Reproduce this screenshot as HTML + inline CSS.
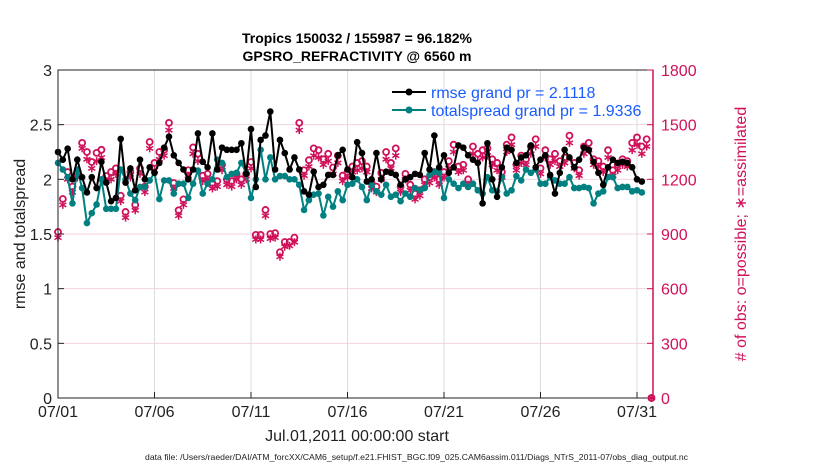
<!DOCTYPE html>
<html><head><meta charset="utf-8"><style>
body{margin:0;background:#fff;}
svg text{font-family:"Liberation Sans",sans-serif;}
</style></head><body>
<svg id="c" width="830" height="470" xmlns="http://www.w3.org/2000/svg"></svg>
<script>
const rmse=[2.25,2.18,2.28,2.0,2.18,2.02,1.88,2.02,1.92,2.16,1.97,1.8,1.83,2.37,1.97,2.1,1.9,2.18,2.0,2.11,2.06,2.15,2.29,2.39,2.22,2.15,2.09,2.0,2.09,2.42,2.16,2.11,2.42,2.09,2.29,2.27,2.27,2.27,2.33,2.05,
2.46,1.93,2.36,2.4,2.62,2.09,2.36,2.24,2.09,2.2,2.09,1.89,1.86,2.07,1.93,1.95,2.04,2.04,2.22,2.27,2.09,2.02,2.34,2.24,1.98,2.0,2.24,2.0,2.07,2.06,2.04,1.95,2.0,2.02,2.05,2.04,2.24,2.09,2.4,2.11,
2.22,2.06,2.11,2.31,2.29,2.22,2.18,2.15,1.78,2.33,2.0,1.84,2.11,2.29,2.27,2.15,2.2,2.22,2.31,2.11,2.18,2.22,2.04,1.87,2.06,2.27,2.2,2.11,2.18,2.29,2.27,2.16,2.06,1.95,2.11,2.18,2.15,2.16,2.15,2.11,2.0,1.98];
const spread=[2.15,2.09,2.02,1.78,2.09,1.92,1.6,1.69,1.77,2.0,1.73,1.73,1.73,2.09,2.0,1.87,1.81,1.93,1.93,1.99,2.06,1.82,1.99,1.99,1.87,1.96,1.96,1.83,1.96,2.08,1.87,1.96,2.0,2.18,2.15,2.02,2.05,2.06,2.15,2.06,
1.83,2.0,2.27,2.0,2.2,2.0,2.03,2.03,2.0,2.0,1.95,1.72,1.81,1.86,1.87,1.67,1.84,1.75,1.89,1.81,1.95,1.96,2.0,1.93,1.81,1.95,1.89,1.86,1.95,1.84,1.86,1.8,1.87,1.84,1.92,1.9,1.92,2.04,2.07,2.06,
1.83,2.0,1.96,1.92,1.96,1.93,1.96,1.9,1.87,2.02,1.9,1.89,2.02,1.87,1.9,2.03,1.99,2.09,2.06,2.09,1.96,1.96,2.02,1.99,1.96,1.96,2.02,1.92,1.92,1.93,1.92,1.78,1.87,1.89,2.02,2.02,1.92,1.93,1.93,1.89,1.9,1.88];
const possible=[911,1092,1240,1160,1240,1400,1350,1295,1345,1362,1218,1240,1260,1110,1021,1240,1060,1260,1160,1405,1290,1350,1362,1510,1180,1030,1090,1250,1375,1340,1220,1230,1180,1190,1280,1200,1190,1230,1200,1230,
1295,895,895,1032,900,905,800,856,856,880,1510,1250,1305,1370,1360,1310,1340,1265,1330,1220,1240,1270,1290,1300,1270,1180,1160,1235,1350,1290,1370,1160,1230,1170,1120,1140,1200,1210,1240,1200,
1240,1300,1390,1270,1280,1200,1380,1340,1360,1370,1310,1290,1240,1390,1430,1280,1330,1310,1380,1420,1260,1360,1310,1340,1300,1320,1440,1290,1250,1380,1400,1310,1300,1270,1360,1250,1280,1310,1300,1400,1430,1380,1420,0];
const assimilated=[880,1060,1200,1130,1210,1370,1310,1260,1300,1320,1190,1200,1230,1080,990,1210,1030,1230,1130,1370,1250,1310,1330,1470,1150,1000,1060,1220,1340,1300,1190,1200,1150,1160,1250,1170,1160,1200,1170,1200,
1260,870,870,1000,875,880,775,830,835,855,1470,1220,1270,1330,1320,1280,1300,1230,1290,1190,1210,1240,1250,1260,1240,1150,1130,1200,1310,1260,1330,1130,1200,1140,1090,1110,1170,1180,1210,1170,
1210,1260,1350,1240,1250,1170,1340,1300,1320,1330,1280,1250,1210,1350,1390,1250,1290,1280,1340,1380,1230,1320,1280,1300,1270,1290,1400,1260,1220,1340,1360,1280,1270,1240,1320,1220,1250,1280,1270,1360,1390,1340,1380,0];
const xTickLabels=['07/01','07/06','07/11','07/16','07/21','07/26','07/31'];
const xTickDays=[0,5,10,15,20,25,30];
const yTicks=[0,0.5,1,1.5,2,2.5,3];
const yTickLabels=['0','0.5','1','1.5','2','2.5','3'];
const rTicks=[0,300,600,900,1200,1500,1800];

const L=58,R=653,T=70,B=398,NS='http://www.w3.org/2000/svg',svg=document.getElementById('c');
const xs=d=>L+d*19.3, ys=v=>B-(v/3)*(B-T), yr=v=>B-(v/1800)*(B-T);
const CR='#d0105a';
function el(t,a,p){const e=document.createElementNS(NS,t);for(const k in a)e.setAttribute(k,a[k]);(p||svg).appendChild(e);return e;}
function tx(s,a){const e=el('text',a);e.textContent=s;return e;}
rTicks.forEach(v=>{const g=el('line',{x1:L,x2:R,y1:yr(v),y2:yr(v),stroke:'#f3d3de','stroke-width':1});});
xTickDays.forEach(d=>{const g=el('line',{x1:xs(d),x2:xs(d),y1:T,y2:B,stroke:'#dcdcdc','stroke-width':1});});
const day=i=>i*0.25;
possible.forEach((v,i)=>{const c=el('circle',{cx:xs(day(i)),cy:yr(v),r:3,fill:'none',stroke:CR,'stroke-width':1.8});});
assimilated.forEach((v,i)=>{const x=xs(day(i)),y=yr(v);const g=el('g',{stroke:CR,'stroke-width':1.5});
[[0,4],[3.5,2],[3.5,-2]].forEach(([a,b])=>el('line',{x1:x-a,y1:y-b,x2:x+a,y2:y+b},g));});
function series(arr,col,name){const p=el('polyline',{points:arr.map((v,i)=>xs(day(i))+','+ys(v)).join(' '),fill:'none',stroke:col,'stroke-width':2});
arr.forEach((v,i)=>{const c=el('circle',{cx:xs(day(i)),cy:ys(v),r:3.3,fill:col});});}
series(spread,'#008080','totalspread');
series(rmse,'#000','rmse');
const bx=el('rect',{x:L,y:T,width:R-L,height:B-T,fill:'none',stroke:'#222','stroke-width':1});
const ra=el('line',{x1:R,x2:R,y1:T,y2:B,stroke:CR,'stroke-width':1.5});
yTicks.forEach((v,i)=>{el('line',{x1:L,x2:L+6,y1:ys(v),y2:ys(v),stroke:'#222'});const t=tx(yTickLabels[i],{x:L-6,y:ys(v)+6,'text-anchor':'end','font-size':16,fill:'#222'});});
rTicks.forEach(v=>{el('line',{x1:R-6,x2:R,y1:yr(v),y2:yr(v),stroke:CR});const t=tx(String(v),{x:R+8,y:yr(v)+6,'font-size':16,fill:CR});});
xTickDays.forEach((d,i)=>{el('line',{x1:xs(d),x2:xs(d),y1:B,y2:B-6,stroke:'#222'});const t=tx(xTickLabels[i],{x:xs(d),y:B+19,'text-anchor':'middle','font-size':16,fill:'#222'});});
[['rmse grand pr = 2.1118','#000',92],['totalspread grand pr = 1.9336','#008080',110]].forEach(([s,c,y])=>{el('line',{x1:392,x2:426,y1:y,y2:y,stroke:c,'stroke-width':2});el('circle',{cx:409,cy:y,r:3.5,fill:c});const t=tx(s,{x:431,y:y+6,'font-size':16,fill:'#1a5cff'});});
</script>
<svg width="830" height="470" style="position:absolute;left:0;top:0">
<text x="357" y="43" text-anchor="middle" font-size="14" font-weight="bold">Tropics 150032 / 155987 = 96.182%</text>
<text x="357" y="61" text-anchor="middle" font-size="14" font-weight="bold">GPSRO_REFRACTIVITY @ 6560 m</text>
<text x="357" y="441" text-anchor="middle" font-size="16" fill="#222">Jul.01,2011 00:00:00 start</text>
<text transform="translate(25,234) rotate(-90)" text-anchor="middle" font-size="16" fill="#222">rmse and totalspread</text>
<text transform="translate(746,234) rotate(-90)" text-anchor="middle" font-size="16" fill="#d0105a"># of obs: o=possible; ∗=assimilated</text>
<text x="145" y="460" font-size="8.5" textLength="543" lengthAdjust="spacingAndGlyphs" fill="#222">data file: /Users/raeder/DAI/ATM_forcXX/CAM6_setup/f.e21.FHIST_BGC.f09_025.CAM6assim.011/Diags_NTrS_2011-07/obs_diag_output.nc</text>
</svg>
</body></html>
